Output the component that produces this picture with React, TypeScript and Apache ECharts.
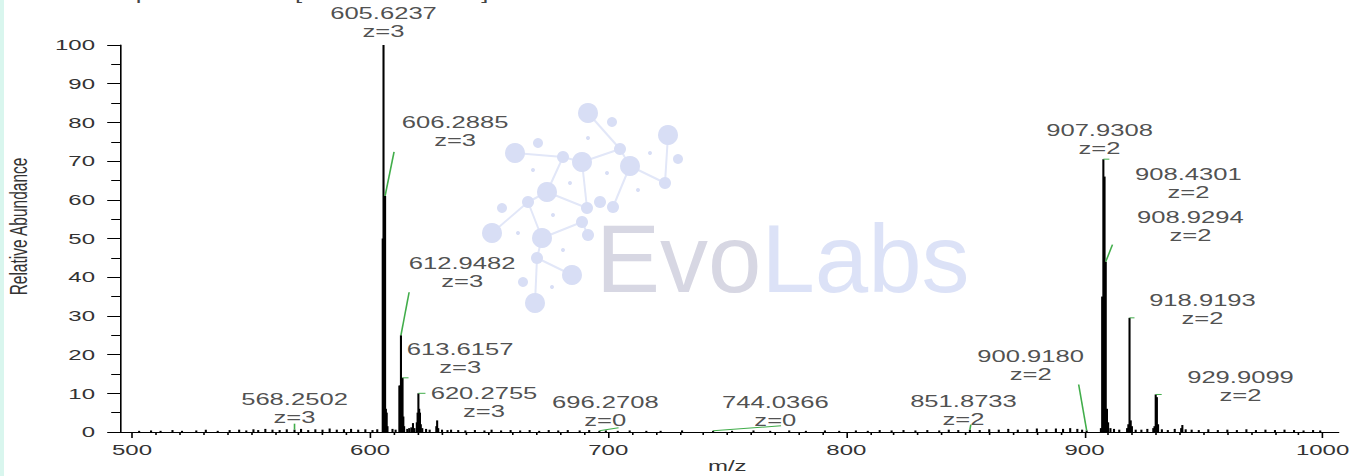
import React, { useEffect, useRef } from 'react';
import * as echarts from 'echarts';

// horizontal stretch of the original picture
const S = 1.6;
const W = 1353 / S;
const H = 476;
const FONT = "'Liberation Sans', Arial, Helvetica, sans-serif";

// ---- main isotope clusters (m/z, relative abundance) ----
const peakMz = [
  605.29, 605.6237, 605.96, 606.2885, 606.62, 606.96, 607.29, 609.4, 610.7,
  612.28, 612.6148, 612.9482, 613.2815, 613.6157, 613.95, 614.28, 615.6, 616.4,
  617.3, 618.0, 618.6, 619.61, 619.94, 620.2755, 620.61, 620.94, 621.28, 621.9,
  623.5, 625.0, 627.8, 628.15, 628.6, 630.2, 632.5,
  900.918, 906.9, 907.4305, 907.9308, 908.4301, 908.9294, 909.43, 909.93, 910.9,
  912.4, 914.6, 917.9, 918.42, 918.9193, 919.42, 919.92, 921.5, 923.9, 926.4,
  928.9, 929.41, 929.9099, 930.41, 930.91, 932.5, 935.0, 937.9, 940.6, 941.1, 942.5,
];
const peakIntensity = [
  50, 100, 61, 61, 6, 5, 1.5, 0.8, 0.6,
  12, 12, 25, 14, 14, 4, 1.5, 0.8, 1,
  1.2, 2.3, 1, 2.5, 5, 10, 6, 5, 2, 1,
  0.8, 0.6, 1.5, 3, 1, 0.6, 0.5,
  0.4, 1, 35, 70.5, 66, 44, 6, 2.5, 1,
  0.8, 0.6, 1, 2, 29.5, 3, 1.5, 0.6, 0.6, 0.8,
  1, 1.5, 9.7, 9, 2, 0.7, 0.5, 0.8, 1, 1.8, 0.7,
];

// ---- baseline noise ----
const noiseMz = [
  503, 508, 512, 517, 521, 527, 531, 536, 541, 545, 548, 551, 553, 556, 559, 562,
  565, 568.2502, 571, 574, 577, 580, 583, 586, 589, 592, 595, 598, 601, 603,
  634, 637, 640, 644, 648, 651, 655, 659, 663, 667, 671, 675, 679, 683, 688, 692,
  696.2708, 699, 704, 709, 716, 722, 731, 744.0366, 752, 761, 768, 776, 783, 791, 797,
  804, 809, 814, 819, 824, 829, 834, 839, 843, 847, 851.8733, 856, 860, 864, 868,
  872, 876, 880, 884, 888, 891, 894, 897, 899,
  945, 948, 952, 956, 960, 964, 968, 972, 976, 980, 984, 988, 992, 996, 999,
];
const noiseIntensity = [
  0.3, 0.4, 0.3, 0.5, 0.3, 0.4, 0.6, 0.3, 0.5, 0.6, 0.4, 0.7, 0.5, 0.8, 0.6, 0.5,
  0.7, 0.6, 0.8, 0.5, 0.7, 0.6, 0.9, 0.6, 0.7, 0.8, 0.6, 0.7, 0.5, 0.7,
  0.6, 0.5, 0.4, 0.5, 0.4, 0.6, 0.4, 0.5, 0.4, 0.5, 0.3, 0.5, 0.4, 0.5, 0.4, 0.5,
  0.3, 0.4, 0.3, 0.4, 0.3, 0.3, 0.4, 0.3, 0.3, 0.4, 0.3, 0.4, 0.3, 0.4, 0.3,
  0.4, 0.3, 0.5, 0.4, 0.5, 0.4, 0.5, 0.4, 0.6, 0.5, 0.6, 0.5, 0.7, 0.6, 0.8,
  0.6, 0.7, 0.9, 0.7, 0.9, 0.8, 1, 0.8, 0.6,
  0.6, 0.5, 0.7, 0.5, 0.6, 0.5, 0.7, 0.5, 0.6, 0.5, 0.6, 0.5, 0.4, 0.5, 0.4,
];

// ---- annotated peaks ----
const labelMz = [
  605.6237, 606.2885, 612.9482, 613.6157, 620.2755, 568.2502, 696.2708, 744.0366,
  851.8733, 900.918, 907.9308, 908.4301, 908.9294, 918.9193, 929.9099,
];
const labelIntensity = [100, 61, 25, 14, 10, 0.6, 0.3, 0.3, 0.6, 0.4, 70.5, 66, 44, 29.5, 9.7];
const labelCharge = [3, 3, 3, 3, 3, 3, 0, 0, 2, 2, 2, 2, 2, 2, 2];

// label placement (layout only): [dx in chart px, dy in px]
const labelShift = [
  [0, 0], [43.75, -42], [38.25, -40], [36, 3], [41, 32], [0, 2], [3.7, 3], [38.9, 3],
  [-4, 4], [-35, -42], [-2.4, 3], [52.4, 29.4], [52.9, -12.7], [45.6, 14.2], [53, 14.5],
];
// leader line end relative to the peak top (layout only): [dx chart px, dy px]
const leaderEnd = [
  [0, 0], [5.6, -44], [5.1, -43], [3.75, 0], [4.4, 0], [0, -6], [12, -3], [42.5, -5],
  [0.6, -5], [-5, -46], [3.75, 0], [0, 0], [4.2, -17], [3.1, 0], [3.75, 0],
];

const yTickInterval = 10;
const xTickInterval = 100;

// ---- watermark (decorative, screen px) ----
const dots = [
  [588, 113, 10], [612, 122, 5], [668, 135, 10], [538, 143, 5], [515, 153, 10], [588, 138, 2],
  [563, 157, 6], [582, 162, 10], [620, 149, 6], [630, 166, 10], [650, 153, 2], [678, 159, 5],
  [665, 183, 6], [533, 170, 2], [570, 183, 2], [607, 173, 2], [547, 192, 10], [528, 202, 6],
  [502, 208, 5], [587, 208, 6], [600, 202, 6], [613, 207, 6], [638, 190, 2], [553, 215, 2],
  [582, 222, 6], [492, 233, 10], [518, 233, 2], [542, 238, 10], [588, 235, 6], [563, 250, 2],
  [537, 258, 6], [572, 275, 10], [523, 282, 5], [552, 287, 2], [535, 303, 10],
];
const links = [
  [0, 8], [4, 6], [6, 7], [7, 8], [8, 9], [9, 12], [2, 12], [6, 16], [16, 17], [17, 25],
  [16, 19], [7, 19], [9, 21], [17, 27], [27, 24], [24, 28], [27, 30], [30, 31], [30, 34],
];

export default function App() {
  const ref = useRef<HTMLDivElement>(null);

  useEffect(() => {
    if (!ref.current) return;
    const chart = echarts.init(ref.current, undefined, { renderer: 'svg' });

    const barData: number[][] = [];
    peakMz.forEach((m, i) => barData.push([m, peakIntensity[i]]));
    noiseMz.forEach((m, i) => barData.push([m, noiseIntensity[i]]));
    barData.sort((a, b) => a[0] - b[0]);

    const labelData = labelMz.map((m, i) => [m, labelIntensity[i]]);
    const leaderData = labelMz.map((m, i) => [m, labelIntensity[i], i]);

    const wmChildren: any[] = [];
    links.forEach(([a, b]) => {
      wmChildren.push({
        type: 'line',
        shape: { x1: dots[a][0], y1: dots[a][1], x2: dots[b][0], y2: dots[b][1] },
        style: { stroke: '#e2e7f8', lineWidth: 2 },
        silent: true,
      });
    });
    dots.forEach(([x, y, r]) => {
      wmChildren.push({
        type: 'circle',
        shape: { cx: x, cy: y, r },
        style: { fill: '#d8def5' },
        silent: true,
      });
    });
    wmChildren.push({
      type: 'text',
      x: 596,
      y: 258,
      style: { text: 'Evo', font: `96px ${FONT}`, fill: '#d7d7e3', align: 'left', verticalAlign: 'middle' },
      silent: true,
    });
    wmChildren.push({
      type: 'text',
      x: 596 + 165.4,
      y: 258,
      style: { text: 'Labs', font: `96px ${FONT}`, fill: '#dce2f7', align: 'left', verticalAlign: 'middle' },
      silent: true,
    });

    const option: any = {
      animation: false,
      backgroundColor: 'transparent',
      grid: [
        { left: 75, right: W - 836.25, top: 45, bottom: H - 432, containLabel: false, outerBoundsMode: 'none' },
        { left: 82.5, right: W - 826.25, top: 45, bottom: H - 432, containLabel: false, outerBoundsMode: 'none' },
      ],
      xAxis: [
        {
          gridIndex: 0,
          type: 'value',
          min: 494.96,
          max: 1006.72,
          axisLine: { show: true, lineStyle: { color: '#000', width: 1 } },
          axisTick: { show: false },
          axisLabel: { show: false },
          splitLine: { show: false },
        },
        {
          gridIndex: 1,
          type: 'value',
          min: 500,
          max: 1000,
          interval: xTickInterval,
          axisLine: { show: false },
          axisTick: { show: true, length: 6, lineStyle: { color: '#000', width: 1 } },
          minorTick: { show: true, splitNumber: 10, length: 3, lineStyle: { color: '#000', width: 1 } },
          axisLabel: {
            show: true,
            fontSize: 15,
            color: '#333',
            margin: 10,
            fontFamily: FONT,
            formatter: (v: number) => String(v),
          },
          splitLine: { show: false },
          minorSplitLine: { show: false },
          name: 'm/z',
          nameLocation: 'middle',
          nameGap: 26,
          nameMoveOverlap: false,
          nameTextStyle: { fontSize: 15, lineHeight: 15, color: '#333', fontFamily: FONT },
        },
      ],
      yAxis: [
        {
          gridIndex: 0,
          type: 'value',
          min: 0,
          max: 100,
          interval: yTickInterval,
          axisLine: { show: true, lineStyle: { color: '#000', width: 1 } },
          axisTick: { show: true, length: 8, lineStyle: { color: '#000', width: 1 } },
          minorTick: { show: true, splitNumber: 2, length: 5.5, lineStyle: { color: '#000', width: 1 } },
          axisLabel: { fontSize: 15, color: '#333', margin: 15.6, fontFamily: FONT },
          splitLine: { show: false },
          name: 'Relative Abundance',
          nameLocation: 'middle',
          nameRotate: 90,
          nameGap: 56,
          nameMoveOverlap: false,
          nameTextStyle: { fontSize: 15.5, color: '#333', fontFamily: FONT, padding: [0, 0, 0, 24] },
        },
        {
          gridIndex: 1,
          type: 'value',
          min: 0,
          max: 100,
          show: false,
        },
      ],
      graphic: [
        {
          type: 'text',
          x: 6.25,
          y: -5.5,
          style: {
            text: 'T: FTMS + p ESI Full ms [500.00-1000.00]',
            font: `16px ${FONT}`,
            fill: '#444',
            align: 'left',
            verticalAlign: 'middle',
          },
          silent: true,
          z: 0,
        },
        {
          type: 'group',
          x: 0,
          y: 0,
          scaleX: 1 / S,
          z: 0,
          silent: true,
          children: wmChildren,
        },
      ],
      series: [
        {
          type: 'bar',
          xAxisIndex: 0,
          yAxisIndex: 0,
          data: barData,
          barWidth: 1.3,
          itemStyle: { color: '#000' },
          silent: true,
          z: 3,
        },
        {
          type: 'custom',
          xAxisIndex: 0,
          yAxisIndex: 0,
          data: leaderData,
          silent: true,
          z: 4,
          renderItem: (params: any, api: any) => {
            const i = api.value(2);
            const d = leaderEnd[i];
            if (!d || (d[0] === 0 && d[1] === 0)) return null;
            const p = api.coord([api.value(0), api.value(1)]);
            return {
              type: 'line',
              shape: { x1: p[0], y1: p[1], x2: p[0] + d[0], y2: p[1] + d[1] },
              style: { stroke: '#41ad4a', lineWidth: 1 },
            };
          },
        },
        {
          type: 'scatter',
          xAxisIndex: 0,
          yAxisIndex: 0,
          data: labelData,
          symbol: 'circle',
          symbolSize: 1,
          itemStyle: { color: 'rgba(0,0,0,0)' },
          silent: true,
          z: 5,
          label: {
            show: true,
            position: 'top',
            distance: 4,
            fontSize: 16,
            lineHeight: 18,
            color: '#222',
            fontFamily: FONT,
            align: 'center',
            formatter: (p: any) =>
              `${labelMz[p.dataIndex].toFixed(4)}\nz=${labelCharge[p.dataIndex]}`,
          },
          labelLayout: (p: any) => ({
            dx: labelShift[p.dataIndex][0],
            dy: labelShift[p.dataIndex][1],
          }),
        },
      ],
    };

    chart.setOption(option);
    return () => chart.dispose();
  }, []);

  return (
    <div
      style={{
        position: 'fixed',
        left: 0,
        top: 0,
        width: 1353,
        height: H,
        background: '#fff',
        overflow: 'hidden',
      }}
    >
      <div
        ref={ref}
        style={{
          position: 'absolute',
          left: 0,
          top: 0,
          width: W,
          height: H,
          transform: `scaleX(${S})`,
          transformOrigin: '0 0',
        }}
      />
      <div
        style={{
          position: 'absolute',
          left: 0,
          top: 0,
          width: 4,
          height: H,
          background: '#d9f6ee',
        }}
      />
    </div>
  );
}
